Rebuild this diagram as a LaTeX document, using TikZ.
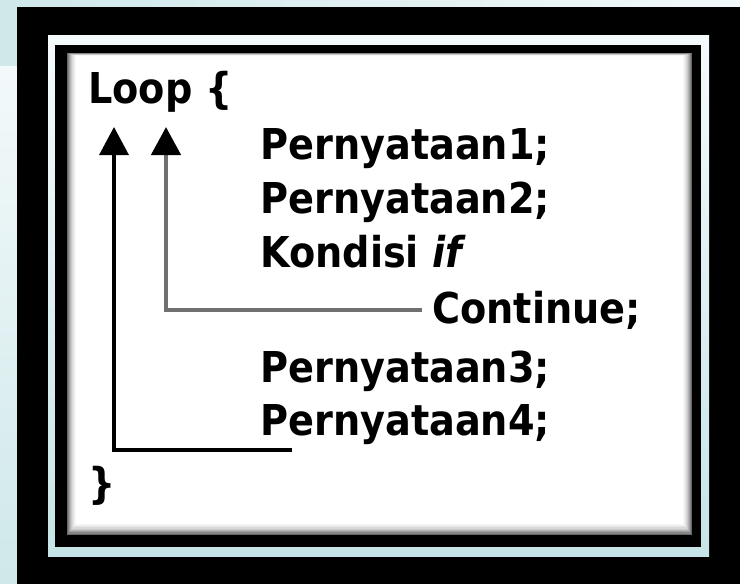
\documentclass[tikz,border=0pt]{standalone}
\usepackage{fontspec}
\usetikzlibrary{arrows.meta}
\newfontfamily\codefont[FakeStretch=0.9]{DejaVu Sans}
\definecolor{tealA}{HTML}{CFE8EA}
\definecolor{tealB}{HTML}{F3F9FA}
\definecolor{bandTop}{HTML}{F5FAFC}
\definecolor{bandBot}{HTML}{C6E4E7}
\definecolor{contgray}{HTML}{707070}
\tikzset{
  code/.style={anchor=base west, inner sep=0pt, font=\codefont\bfseries\fontsize{42.5}{50}\selectfont, text=black},
  loopline/.style={draw=black, line width=3.4pt, line join=miter, -{Triangle[length=28pt,width=29pt,color=black]}},
  contline/.style={draw=contgray, line width=4.5pt, line join=miter, -{Triangle[length=28pt,width=29pt,color=black]}}
}
\begin{document}
\begin{tikzpicture}[x=1pt,y=-1pt]
\useasboundingbox (0,0) rectangle (740,584);
% background
\fill[left color=tealA, right color=tealB] (0,0) rectangle (740,66);
\fill[top color=tealB, bottom color=tealA] (0,66) rectangle (20,584);
% outer black frame
\fill[black] (17,7) rectangle (740,584);
% light band
\fill[top color=bandTop, bottom color=bandBot] (48,35) rectangle (709,556);
% inner black frame
\fill[black] (55,45) rectangle (701,547);
% white box with inner shadow
\foreach \i/\c in {0/60,1/48,2/38,3/29,4/21,5/15,6/10,7/6,8/3}
  \fill[black!\c] ({67+\i},{53+0.3*\i}) rectangle ({692-\i},{535-1.3*\i});
\fill[white] (76,56) rectangle (683,524);
% text
\node[code] (loop) at (88,103) {Loop \{};
\node[code] (p1) at (260,159) {Pernyataan1;};
\node[code] (p2) at (260,213) {Pernyataan2;};
\node[code] (kond) at (260,267) {Kondisi \itshape if};
\node[code] (cont) at (432,323) {Continue;};
\node[code] (p3) at (260,382) {Pernyataan3;};
\node[code] (p4) at (260,435) {Pernyataan4;};
\node[code] (close) at (88,498) {\}};
% arrow tips
\coordinate (tipA) at (114,127);
\coordinate (tipB) at (166,127);
% connectors
\draw[contline] ([xshift=-10pt]cont.west) -| (tipB);
\draw[loopline] ([xshift=32pt,yshift=-15pt]p4.base west) -| (tipA);
\end{tikzpicture}
\end{document}
